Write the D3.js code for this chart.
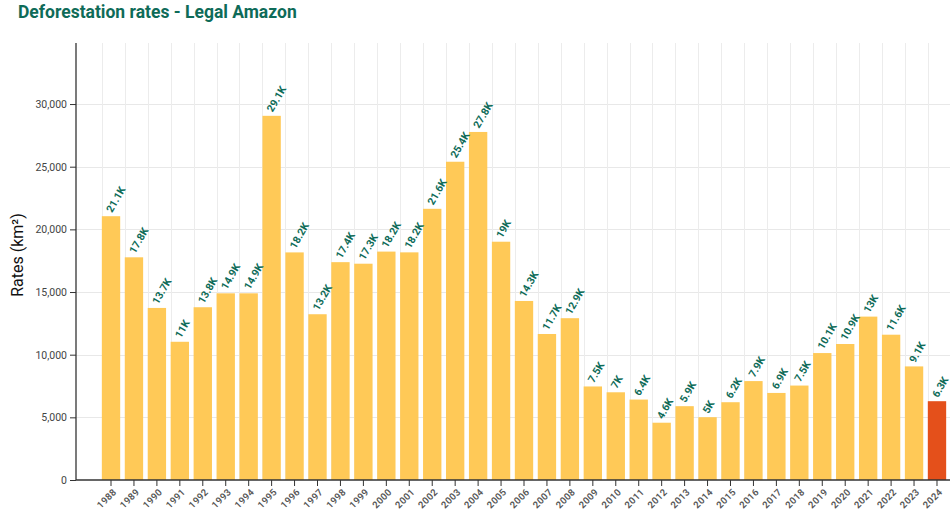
<!DOCTYPE html>
<html>
<head>
<meta charset="utf-8">
<script src="https://cdn.jsdelivr.net/npm/d3@7"></script>
<style>
  html, body { margin: 0; padding: 0; background: #fff; overflow: hidden; }
  svg { display: block; font-family: Roboto, "Noto Sans", sans-serif; }
</style>
</head>
<body>
<svg id="chart" width="950" height="515"></svg>
<script>
const years = ["1988","1989","1990","1991","1992","1993","1994","1995","1996","1997","1998","1999","2000","2001","2002","2003","2004","2005","2006","2007","2008","2009","2010","2011","2012","2013","2014","2015","2016","2017","2018","2019","2020","2021","2022","2023","2024"];
const rates = [21050,17770,13730,11030,13786,14896,14896,29059,18161,13227,17383,17259,18226,18165,21640,25396,27772,19014,14286,11651,12911,7464,7000,6418,4571,5891,5012,6207,7893,6947,7536,10129,10851,13038,11594,9064,6288];
const highlightYear = "2024";
const chartTitle = "Deforestation rates - Legal Amazon";
const yLabel = "Rates (km²)";

const svg = d3.select("#chart");
const mLeft = 76, mBottom = 480, mTop = 43, mRight = 972;

const x = d3.scaleBand()
  .domain(years)
  .range([mLeft, mRight])
  .paddingInner(0.2)
  .paddingOuter(1.126);

const y = d3.scaleLinear()
  .domain([0, d3.max(rates) * 1.2])
  .range([mBottom, mTop]);

const data = years.map((yr, i) => ({ year: yr, value: rates[i] }));

// title
svg.append("text")
  .attr("x", 18).attr("y", 18)
  .attr("fill", "#0e6b58")
  .attr("font-size", 17.5)
  .attr("font-weight", 700)
  .text(chartTitle);

// horizontal grid
const yTicks = y.ticks(10);
svg.append("g").selectAll("line")
  .data(yTicks.filter(d => d > 0))
  .join("line")
  .attr("x1", mLeft).attr("x2", mRight)
  .attr("y1", d => Math.round(y(d)) + 0.5).attr("y2", d => Math.round(y(d)) + 0.5)
  .attr("stroke", "#e8e8e8").attr("stroke-width", 1);

// vertical grid at band starts
svg.append("g").selectAll("line")
  .data(years)
  .join("line")
  .attr("x1", d => Math.round(x(d)) + 0.5).attr("x2", d => Math.round(x(d)) + 0.5)
  .attr("y1", mTop).attr("y2", mBottom)
  .attr("stroke", "#ececec").attr("stroke-width", 1);

// bars
svg.append("g").selectAll("rect")
  .data(data)
  .join("rect")
  .attr("x", d => x(d.year))
  .attr("width", x.bandwidth())
  .attr("y", d => y(d.value))
  .attr("height", d => y(0) - y(d.value))
  .attr("fill", d => d.year === highlightYear ? "#e4501b" : "#ffc957");

// bar labels
const fmt = v => {
  const k = Math.round(v / 100) / 10;
  return (Number.isInteger(k) ? k.toFixed(0) : k.toFixed(1)) + "K";
};
svg.append("g").selectAll("text")
  .data(data)
  .join("text")
  .attr("transform", d => `translate(${x(d.year) + x.bandwidth() / 2 + 1},${y(d.value) - 3}) rotate(-60)`)
  .attr("fill", "#0e6b58")
  .attr("font-size", 10.5)
  .attr("font-weight", 700)
  .text(d => fmt(d.value));

// y axis
const yAxis = svg.append("g")
  .attr("transform", `translate(${mLeft},0)`)
  .call(d3.axisLeft(y).tickValues(yTicks).tickFormat(d3.format(",")).tickSizeOuter(0).tickSize(6));
yAxis.select(".domain").attr("stroke", "#333").attr("stroke-width", 1.3)
  .attr("d", `M0,${mTop}V${mBottom}`);
yAxis.selectAll(".tick line").attr("stroke", "#333");
yAxis.selectAll(".tick text").attr("fill", "#444").attr("font-size", 10.5)
  .attr("font-family", "Roboto, sans-serif");

// x axis
const xAxis = svg.append("g")
  .attr("transform", `translate(0,${mBottom})`)
  .call(d3.axisBottom(x).tickSizeOuter(0).tickSize(6));
xAxis.select(".domain").attr("stroke", "#333").attr("stroke-width", 1.3)
  .attr("d", `M${mLeft},0H${mRight}`);
xAxis.selectAll(".tick line").attr("stroke", "#333");
xAxis.selectAll(".tick text")
  .attr("fill", "#555")
  .attr("font-size", 9.5)
  .attr("font-weight", 600)
  .attr("letter-spacing", "0.3px")
  .attr("font-family", "Roboto, sans-serif")
  .attr("text-anchor", "end")
  .attr("dx", "-0.2em")
  .attr("dy", "0.5em")
  .attr("transform", "translate(4,8) rotate(-45)")
  .attr("y", 0);

// y label
svg.append("text")
  .attr("transform", `translate(23,255) rotate(-90)`)
  .attr("text-anchor", "middle")
  .attr("font-size", 16)
  .attr("fill", "#111")
  .text(yLabel);
</script>
</body>
</html>
